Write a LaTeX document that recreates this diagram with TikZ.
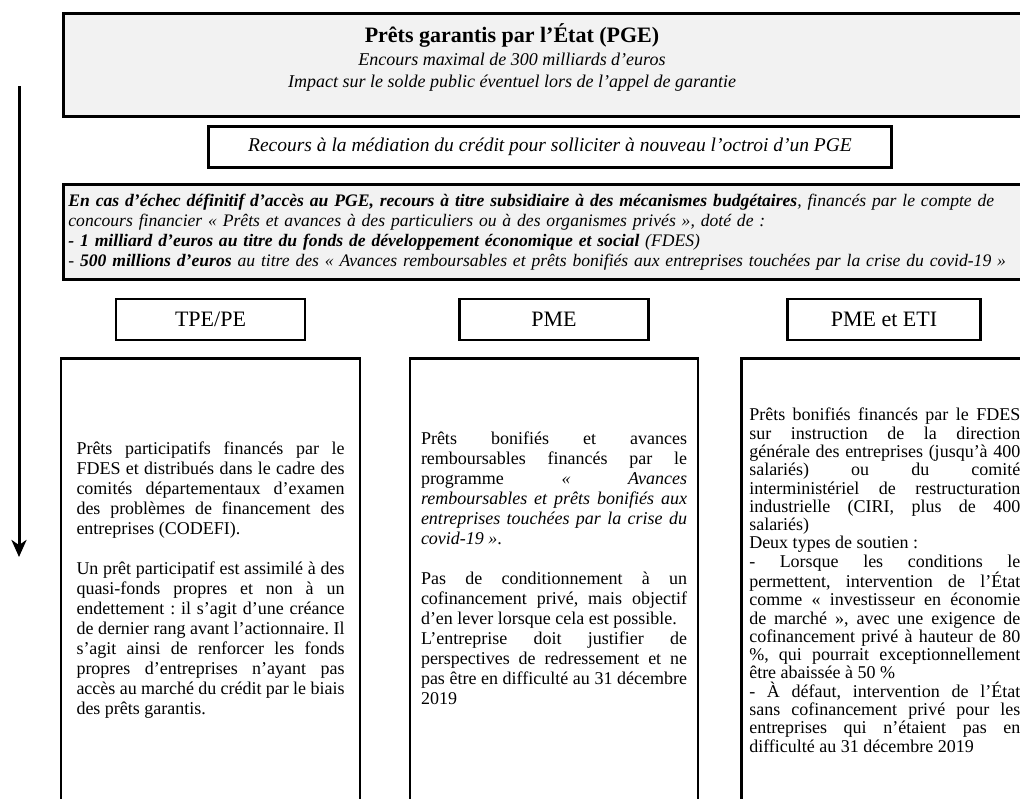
\documentclass[tikz,border=0pt]{standalone}
\usepackage{fontspec}
\setmainfont{Liberation Serif}
\usetikzlibrary{arrows.meta,positioning}
\definecolor{boxgrey}{HTML}{F2F2F2}
\frenchspacing
\tolerance=10000
\hyphenpenalty=10000
\exhyphenpenalty=10000
\tikzset{
    greybox/.style={
    rectangle,draw=black,fill=boxgrey,line width=2.8pt
    },
    plainbox/.style={
    rectangle,draw=black,line width=2.5pt
    },
    headbox/.style={
    rectangle,draw=black,line width=2.5pt,minimum height=41pt,font=\fontsize{22}{26}\selectfont
    },
    colbox/.style={
    rectangle,draw=black,line width=2.5pt,anchor=north,minimum height=444pt,align=justify,font=\fontsize{18}{20}\selectfont
    },
}
\begin{document}
\begin{tikzpicture}[x=1pt,y=-1pt]
  \useasboundingbox (0,0) rectangle (1020,798);
  \clip (0,0) rectangle (1020,798);
  \node[greybox,anchor=north west,minimum width=975pt,minimum height=103pt] (pgebox) at (62,12) {};
  \node[align=center,inner sep=0pt,font=\fontsize{18}{22}\selectfont\itshape] (pge) at (512,57)
    {{\fontsize{22}{26}\selectfont\bfseries\upshape Prêts garantis par l’État (PGE)}\\[1pt]
     Encours maximal de 300 milliards d’euros\\
     Impact sur le solde public éventuel lors de l’appel de garantie};
  \node[plainbox,minimum width=683pt,minimum height=41pt,font=\fontsize{19.5}{22}\selectfont\itshape] (mediation) at (550,147)
    {Recours à la médiation du crédit pour solliciter à nouveau l’octroi d’un PGE};
  \node[greybox,anchor=north west,minimum height=95pt,text width=1000pt,inner xsep=5pt,align=left,font=\fontsize{17.6}{20}\selectfont\itshape] (budget) at (62,183)
    {\textbf{En cas d’échec définitif d’accès au PGE, recours à titre subsidiaire à des mécanismes budgétaires}, financés par le compte de\\
     concours financier « Prêts et avances à des particuliers ou à des organismes privés », doté de :\\
     \textbf{- 1 milliard d’euros au titre du fonds de développement économique et social} (FDES)\\
     - \textbf{500 millions d’euros} au titre des « Avances remboursables et prêts bonifiés aux entreprises touchées par la crise du covid-19 »};

  \node[headbox,minimum width=189pt] (tpe) at (210.5,319.5) {TPE/PE};
  \node[headbox,minimum width=189pt] (pme) at (554,319.5) {PME};
  \node[headbox,minimum width=193pt] (eti) at (884,319.5) {PME et ETI};

  \node[colbox,minimum width=299pt,text width=268pt] (tpetext) at (210.5,357)
    {Prêts participatifs financés par le\linebreak FDES et distribués dans le cadre des\linebreak comités départementaux d’examen\linebreak des problèmes de financement des\linebreak entreprises (CODEFI).\\[20pt]
     Un prêt participatif est assimilé à des\linebreak quasi-fonds propres et non à un\linebreak endettement : il s’agit d’une créance\linebreak de dernier rang avant l’actionnaire. Il\linebreak s’agit ainsi de renforcer les fonds\linebreak propres d’entreprises n’ayant pas\linebreak accès au marché du crédit par le biais\linebreak des prêts garantis.};
  \node[colbox,minimum width=288pt,text width=266pt] (pmetext) at (554,357)
    {Prêts bonifiés et avances\linebreak remboursables financés par le\linebreak programme \textit{« Avances\linebreak remboursables et prêts bonifiés aux\linebreak entreprises touchées par la crise du\linebreak covid-19 »}.\\[20pt]
     Pas de conditionnement à un\linebreak cofinancement privé, mais objectif\linebreak d’en lever lorsque cela est possible.\\
     L’entreprise doit justifier de\linebreak perspectives de redressement et ne\linebreak pas être en difficulté au 31 décembre\linebreak 2019\\[4pt]\mbox{}};
  \node[colbox,anchor=north west,minimum width=287pt,text width=271pt,font=\fontsize{18}{18.3}\selectfont] (etitext) at (740,357)
    {Prêts bonifiés financés par le FDES\linebreak sur instruction de la direction\linebreak générale des entreprises (jusqu’à 400\linebreak salariés) ou du comité\linebreak interministériel de restructuration\linebreak industrielle (CIRI, plus de 400\linebreak salariés)\\
     Deux types de soutien :\\
     - Lorsque les conditions le\linebreak permettent, intervention de l’État\linebreak comme « investisseur en économie\linebreak de marché », avec une exigence de\linebreak cofinancement privé à hauteur de 80\linebreak \%, qui pourrait exceptionnellement\linebreak être abaissée à 50 \%\\
     - À défaut, intervention de l’État\linebreak sans cofinancement privé pour les\linebreak entreprises qui n’étaient pas en\linebreak difficulté au 31 décembre 2019};

  \coordinate (flowtop) at (19,86);
  \coordinate (flowend) at (19,557);
  \draw[line width=3pt,-{Stealth[length=17pt,width=15pt,inset=5pt]}] (flowtop) -- (flowend);
\end{tikzpicture}
\end{document}
